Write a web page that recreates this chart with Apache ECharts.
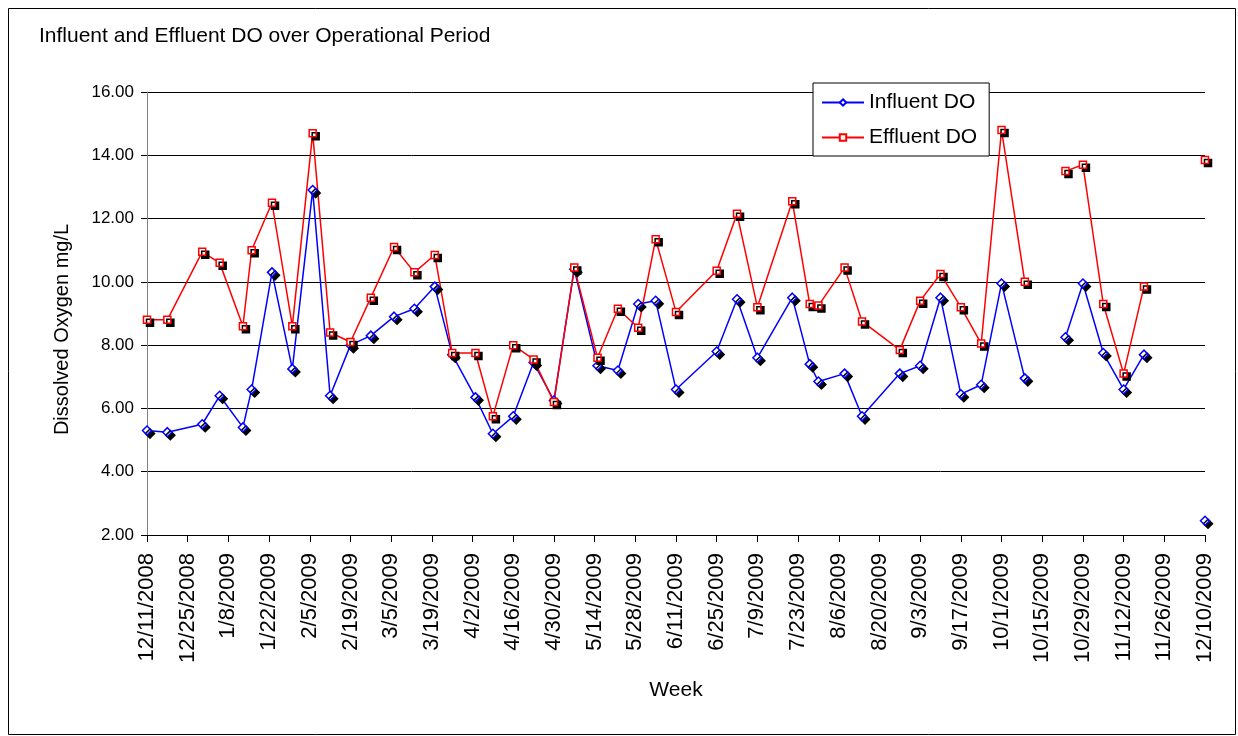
<!DOCTYPE html>
<html>
<head>
<meta charset="utf-8">
<script src="https://cdn.jsdelivr.net/npm/echarts@6/dist/echarts.min.js"></script>
<style>
  html, body { margin: 0; padding: 0; background: #fff; }
  #main { width: 1238px; height: 736px; }
</style>
</head>
<body>
<div id="main"></div>
<script>
  // sample dates (null values mark breaks in the lines)
  var dates = ['12/11/2008', '12/18/2008', '12/30/2008', '1/5/2009', '1/13/2009', '1/16/2009',
    '1/23/2009', '1/30/2009', '2/6/2009', '2/12/2009', '2/19/2009', '2/26/2009', '3/6/2009',
    '3/13/2009', '3/20/2009', '3/26/2009', '4/3/2009', '4/9/2009', '4/16/2009', '4/23/2009',
    '4/30/2009', '5/7/2009', '5/15/2009', '5/22/2009', '5/29/2009', '6/4/2009', '6/11/2009',
    '6/25/2009', '7/2/2009', '7/9/2009', '7/21/2009', '7/27/2009', '7/30/2009', '8/8/2009',
    '8/14/2009', '8/27/2009', '9/3/2009', '9/10/2009', '9/17/2009', '9/24/2009', '10/1/2009',
    '10/9/2009', '10/15/2009', '10/23/2009', '10/29/2009', '11/5/2009', '11/12/2009',
    '11/19/2009', '11/26/2009', '12/10/2009'];

  var influent = [5.3, 5.25, 5.5, 6.4, 5.4, 6.6,
    10.3, 7.25, 12.9, 6.4, 8.0, 8.3, 8.9,
    9.15, 9.85, 7.7, 6.35, 5.2, 5.75, 7.45,
    6.25, 10.4, 7.35, 7.2, 9.3, 9.4, 6.6,
    7.8, 9.45, 7.6, 9.5, 7.4, 6.85, 7.1,
    5.75, 7.1, 7.35, 9.5, 6.45, 6.75, 9.95,
    6.95, null, 8.25, 9.95, 7.75, 6.6,
    7.7, null, 2.45];

  var effluent = [8.8, 8.8, 10.95, 10.6, 8.6, 11.0,
    12.5, 8.6, 14.7, 8.4, 8.1, 9.5, 11.1,
    10.3, 10.85, 7.75, 7.75, 5.75, 8.0, 7.55,
    6.2, 10.45, 7.6, 9.15, 8.55, 11.35, 9.05,
    10.35, 12.15, 9.2, 12.55, 9.3, 9.25, 10.45,
    8.75, 7.85, 9.4, 10.25, 9.2, 8.05, 14.8,
    10.0, null, 13.5, 13.7, 9.3, 7.1,
    9.85, null, 13.85];

  var startDate = '12/11/2008';
  var yTicks = [2, 16, 2]; // min, max, step

  function toDay(s) {
    var p = s.split('/');
    var t = Date.UTC(+p[2], +p[0] - 1, +p[1]);
    var q = startDate.split('/');
    var t0 = Date.UTC(+q[2], +q[0] - 1, +q[1]);
    return Math.round((t - t0) / 86400000);
  }
  function toLabel(day) {
    var q = startDate.split('/');
    var d = new Date(Date.UTC(+q[2], +q[0] - 1, +q[1]) + day * 86400000);
    return (d.getUTCMonth() + 1) + '/' + d.getUTCDate() + '/' + d.getUTCFullYear();
  }
  function pairs(vals) {
    return dates.map(function (d, i) {
      return [toDay(d), vals[i] == null ? '-' : vals[i]];
    });
  }

  var font = '"Liberation Sans", Arial, sans-serif';
  var myChart = echarts.init(document.getElementById('main'));

  var option = {
    animation: false,
    textStyle: { fontFamily: font, color: '#000' },
    title: {
      text: 'Influent and Effluent DO over Operational Period',
      left: 34, top: 21,
      textStyle: { fontFamily: font, fontSize: 21, fontWeight: 'normal', color: '#000' }
    },
    graphic: [{
      type: 'rect',
      shape: { x: 8.5, y: 8.5, width: 1227, height: 726 },
      style: { fill: 'none', stroke: '#000', lineWidth: 1 },
      z: -1
    }],
    legend: {
      orient: 'vertical',
      left: 813, top: 83,
      padding: [9, 12, 8, 8],
      backgroundColor: '#fff',
      borderColor: '#000',
      borderWidth: 1,
      itemWidth: 42, itemHeight: 8, itemGap: 14,
      textStyle: { fontFamily: font, fontSize: 21, color: '#000' },
      data: ['Influent DO', 'Effluent DO']
    },
    grid: { left: 147, right: 33, top: 92, bottom: 201 },
    xAxis: {
      type: 'value',
      min: 0, max: 364, interval: 14,
      name: 'Week',
      nameLocation: 'middle',
      nameGap: 145,
      nameTextStyle: { fontFamily: font, fontSize: 21, color: '#000' },
      axisLine: { lineStyle: { color: '#000' } },
      axisTick: { show: true, length: 7, lineStyle: { color: '#000' } },
      splitLine: { show: false },
      axisLabel: {
        rotate: 90, margin: 18,
        fontFamily: font, fontSize: 22, color: '#000',
        formatter: function (v) { return toLabel(v); }
      }
    },
    yAxis: {
      type: 'value',
      min: yTicks[0], max: yTicks[1], interval: yTicks[2],
      name: 'Dissolved Oxygen mg/L',
      nameLocation: 'middle',
      nameGap: 75,
      nameTextStyle: { fontFamily: font, fontSize: 20, color: '#000', padding: [0, 32, 0, 0] },
      axisLine: { show: true, lineStyle: { color: '#808080' } },
      axisTick: { show: true, length: 6, lineStyle: { color: '#000' } },
      splitLine: { show: true, lineStyle: { color: '#000', width: 1 } },
      axisLabel: {
        margin: 13,
        fontFamily: font, fontSize: 17, color: '#000',
        formatter: function (v) { return v.toFixed(2); }
      }
    },
    series: [{
      name: 'Influent DO',
      type: 'line',
      data: pairs(influent),
      symbol: 'diamond',
      symbolSize: 9,
      showAllSymbol: true,
      lineStyle: { color: '#0000ff', width: 1.5 },
      itemStyle: {
        color: '#fff', borderColor: '#0000ff', borderWidth: 1.5,
        shadowColor: '#000', shadowBlur: 0, shadowOffsetX: 3, shadowOffsetY: 3
      }
    }, {
      name: 'Effluent DO',
      type: 'line',
      data: pairs(effluent),
      symbol: 'rect',
      symbolSize: 7,
      showAllSymbol: true,
      lineStyle: { color: '#ff0000', width: 1.5 },
      itemStyle: {
        color: '#fff', borderColor: '#ff0000', borderWidth: 1.5,
        shadowColor: '#000', shadowBlur: 0, shadowOffsetX: 3, shadowOffsetY: 3
      }
    }]
  };

  myChart.setOption(option, true);
</script>
</body>
</html>
